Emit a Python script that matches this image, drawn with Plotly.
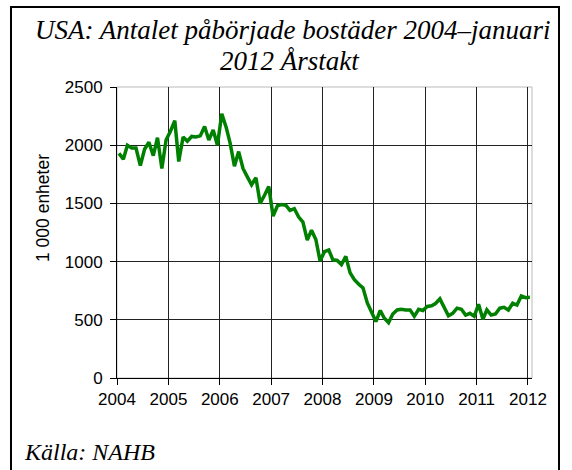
import plotly.graph_objects as go

# Monthly housing starts (thousands, SAAR), Jan 2004 - Jan 2012
years = ["2004", "2005", "2006", "2007", "2008", "2009", "2010", "2011", "2012"]
v2004 = [1930, 1880, 2000, 1975, 1975, 1825, 1965, 2025, 1910, 2065, 1800, 2045]
v2005 = [2120, 2210, 1860, 2070, 2035, 2075, 2070, 2080, 2160, 2045, 2130, 2000]
v2006 = [2270, 2155, 2020, 1820, 1945, 1800, 1730, 1660, 1720, 1500, 1570, 1645]
v2007 = [1390, 1480, 1490, 1485, 1440, 1455, 1385, 1340, 1185, 1270, 1190, 1005]
v2008 = [1085, 1100, 1015, 1010, 975, 1045, 905, 845, 805, 775, 645, 560]
v2009 = [485, 580, 515, 475, 550, 585, 590, 585, 585, 530, 590, 580]
v2010 = [615, 620, 640, 680, 600, 535, 555, 600, 590, 541, 556, 530]
v2011 = [633, 505, 585, 541, 550, 600, 607, 584, 642, 627, 705, 690]
v2012 = [693]

values = v2004 + v2005 + v2006 + v2007 + v2008 + v2009 + v2010 + v2011 + v2012
dates = [f"{2004 + i // 12}-{i % 12 + 1:02d}-15" for i in range(len(values))]

fig = go.Figure()
fig.add_trace(go.Scatter(x=dates, y=values, mode="lines",
                         line=dict(color="#008000", width=3.5), hoverinfo="skip"))

W, H = 572, 470
L, R, T, B = 117, 40, 87, 92
pw, ph = W - L - R, H - T - B

def px_x(px):
    return (px - L) / pw

def px_y(py):
    return (H - B - py) / ph

tick_font = dict(family="Liberation Sans, Arial", size=17, color="#000")
serif = "Liberation Serif, Times New Roman"

fig.update_layout(
    width=W, height=H, autosize=False,
    margin=dict(l=L, r=R, t=T, b=B, pad=0),
    paper_bgcolor="white", plot_bgcolor="white",
    showlegend=False,
    xaxis=dict(
        type="date",
        range=["2004-01-01", "2012-01-30"],
        tickvals=[f"{y}-01-01" for y in years],
        ticktext=years,
        showgrid=True, gridcolor="#222", gridwidth=1,
        showline=True, linecolor="#000", linewidth=1,
        ticks="outside", ticklen=6, tickcolor="#000",
        tickfont=tick_font, zeroline=False,
    ),
    yaxis=dict(
        range=[0, 2500], dtick=500, tick0=0,
        showgrid=True, gridcolor="#222", gridwidth=1,
        showline=True, linecolor="#000", linewidth=1,
        ticks="outside", ticklen=6, tickcolor="#000",
        tickfont=tick_font, zeroline=False,
        ticklabelstandoff=4,
    ),
    shapes=[
        dict(type="rect", xref="paper", yref="paper", x0=0, x1=1, y0=0, y1=1,
             line=dict(color="#bbbbbb", width=1), layer="below"),
        dict(type="rect", xref="paper", yref="paper",
             x0=px_x(11), x1=px_x(559), y0=px_y(490), y1=px_y(7),
             line=dict(color="#000", width=2)),
    ],
    annotations=[
        dict(text="<i>USA: Antalet påbörjade bostäder 2004–januari</i>",
             xref="paper", yref="paper", x=px_x(292), y=px_y(30),
             xanchor="center", yanchor="middle", showarrow=False,
             font=dict(family=serif, size=27, color="#000")),
        dict(text="<i>2012 Årstakt</i>",
             xref="paper", yref="paper", x=px_x(290), y=px_y(61),
             xanchor="center", yanchor="middle", showarrow=False,
             font=dict(family=serif, size=27, color="#000")),
        dict(text="1 000 enheter", textangle=-90,
             xref="paper", yref="paper", x=px_x(43), y=px_y(208),
             xanchor="center", yanchor="middle", showarrow=False,
             font=dict(family="Liberation Sans, Arial", size=17.5, color="#000")),
        dict(text="<i>Källa: NAHB</i>",
             xref="paper", yref="paper", x=px_x(22), y=px_y(452),
             xanchor="left", yanchor="middle", showarrow=False,
             font=dict(family=serif, size=24, color="#000")),
    ],
)

fig.write_html("out.html",
               config={"displayModeBar": False},
               post_script="document.body.style.margin='0px';document.body.style.overflow='hidden';")
